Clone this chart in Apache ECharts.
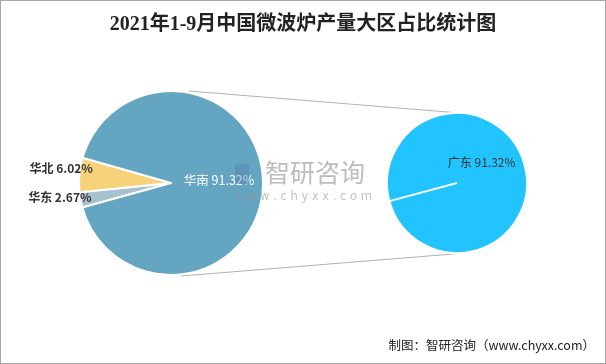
<!DOCTYPE html>
<html>
<head>
<meta charset="utf-8">
<script src="https://cdn.jsdelivr.net/npm/echarts@6/dist/echarts.min.js"></script>
<style>
html,body{margin:0;padding:0;background:#fff;}
#box{width:604px;height:362px;border:1px solid #a6a6a6;position:relative;}
#chart{width:604px;height:362px;}
</style>
</head>
<body>
<div id="box"><div id="chart"></div></div>
<script>
// Data
const titleText = '2021年1-9月中国微波炉产量大区占比统计图';
const mainNames = ['华东', '华北', '华南'];
const mainValues = [2.67, 6.02, 91.32];
const subNames = ['广东'];
const subValues = [91.32];
const sourceText = '制图：智研咨询（www.chyxx.com）';

// layout
const mainC = [170, 182], mainR = 92;
const subC = [456, 182], subR = 70;
const subStart = 195;
const labelOffsets = [[-63, 5], [-61, -10], [-1, -3]];

const chart = echarts.init(document.getElementById('chart'));
const colors = ['#A7C2CD', '#F6D27A', '#64A5C2'];
const rad = subStart * Math.PI / 180;

chart.setOption({
  animation: false,
  title: {
    text: titleText,
    left: 'center',
    top: 9,
    textStyle: { fontFamily: '"Liberation Serif", "Noto Sans CJK SC", serif', fontSize: 20, fontWeight: 'bold', color: '#222' }
  },
  graphic: [
    { type: 'line', silent: true, z: 0,
      shape: { x1: mainC[0] + 18, y1: mainC[1] - mainR, x2: subC[0] + 3, y2: subC[1] - subR },
      style: { stroke: '#b0b0b0', lineWidth: 1 } },
    { type: 'line', silent: true, z: 0,
      shape: { x1: mainC[0] + 10, y1: mainC[1] + mainR + 1, x2: subC[0] - 4, y2: subC[1] + subR + 1 },
      style: { stroke: '#b0b0b0', lineWidth: 1 } },
    { type: 'line', silent: true, z: 50,
      shape: { x1: subC[0], y1: subC[1], x2: subC[0] + subR * Math.cos(rad), y2: subC[1] - subR * Math.sin(rad) },
      style: { stroke: '#fff', lineWidth: 2 } },
    { type: 'text', z: 100, silent: true, left: 264, top: 159,
      style: { text: '智研咨询', fontSize: 25, fill: 'rgba(165,165,165,0.75)', fontFamily: '"Noto Sans CJK SC", sans-serif' } },
    { type: 'text', z: 100, silent: true, left: 233, top: 190,
      style: { text: 'w w w . c h y x x . c o m', fontSize: 11.5, fill: 'rgba(150,150,150,0.6)', fontFamily: 'Verdana, "DejaVu Sans", sans-serif' } },
    { type: 'rect', z: 100, silent: true, shape: { x: 234, y: 163, width: 14, height: 20 },
      style: { fill: 'rgba(80,120,170,0.35)' } },
    { type: 'text', z: 100, silent: true, right: 10, top: 338,
      style: { text: sourceText, fontSize: 12.5, fill: '#222', fontFamily: '"Noto Sans CJK SC", sans-serif' } }
  ],
  series: [
    {
      type: 'pie',
      center: mainC,
      radius: mainR,
      startAngle: 195.4,
      clockwise: true,
      avoidLabelOverlap: false,
      itemStyle: { borderColor: '#fff', borderWidth: 2 },
      label: {
        show: true,
        position: 'inside',
        formatter: '{b} {c}%',
        fontSize: 12,
        fontWeight: 'bold',
        color: '#333',
        fontFamily: '"Noto Sans CJK SC", sans-serif'
      },
      labelLine: { show: false },
      data: mainNames.map((n, i) => ({
        name: n, value: mainValues[i],
        itemStyle: { color: colors[i] },
        label: i === 2 ? { color: '#fff', fontWeight: 'normal', fontSize: 12.5, offset: labelOffsets[i] } : { offset: labelOffsets[i] }
      }))
    },
    {
      type: 'pie',
      center: subC,
      radius: subR,
      startAngle: subStart,
      itemStyle: { borderColor: '#fff', borderWidth: 2, color: '#21C4FE' },
      label: {
        show: true,
        position: 'inside',
        formatter: '{b} {c}%',
        fontSize: 12,
        color: '#333',
        offset: [-12, -11],
        fontFamily: '"Noto Sans CJK SC", sans-serif'
      },
      labelLine: { show: false },
      data: subNames.map((n, i) => ({ name: n, value: subValues[i] }))
    }
  ]
});
</script>
</body>
</html>
